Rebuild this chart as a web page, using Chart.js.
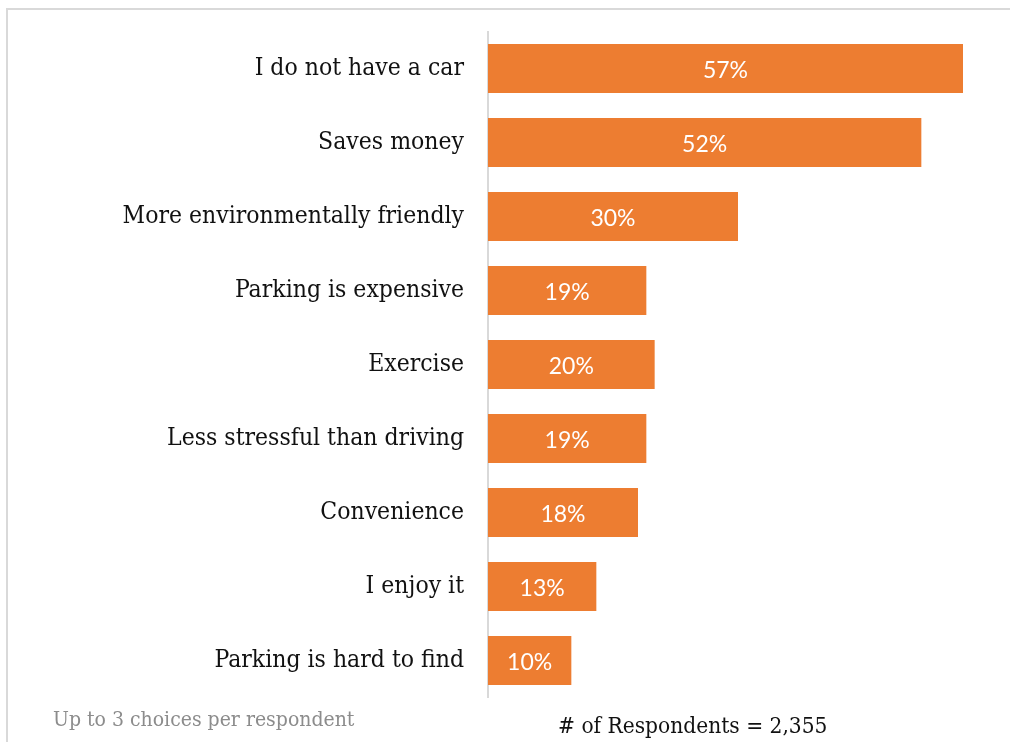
<!DOCTYPE html>
<html>
<head>
<meta charset="utf-8">
<title>Reasons for choosing transit</title>
<script src="https://cdn.jsdelivr.net/npm/chart.js@4.4.1/dist/chart.umd.min.js"></script>
<style>
  html, body { margin: 0; padding: 0; background: #ffffff; }
  body { width: 1010px; height: 742px; position: relative; overflow: hidden; }
  .frame {
    position: absolute; left: 6px; top: 8px; width: 1100px; height: 800px;
    border-left: 2px solid #d9d9d9; border-top: 2px solid #d9d9d9;
  }
  #chart { position: absolute; left: 0; top: 0; }
</style>
</head>
<body>
<div class="frame"></div>
<canvas id="chart" width="1010" height="742"></canvas>
<script>
// Reasons given by respondents, top to bottom
const categories = [
  'I do not have a car',
  'Saves money',
  'More environmentally friendly',
  'Parking is expensive',
  'Exercise',
  'Less stressful than driving',
  'Convenience',
  'I enjoy it',
  'Parking is hard to find'
];
// Share of respondents choosing each reason (%)
const shares = [57, 52, 30, 19, 20, 19, 18, 13, 10];

const footNote = 'Up to 3 choices per respondent';
const respondentsNote = '# of Respondents = 2,355';

const SLAB = "'DejaVu Serif Condensed', 'DejaVu Serif', serif";
const SANS = "Lato, 'Open Sans', sans-serif";
const ORANGE = '#ED7D31';

// White percentage labels centred inside each bar
const barLabels = {
  id: 'barLabels',
  afterDatasetsDraw(chart) {
    const { ctx } = chart;
    const meta = chart.getDatasetMeta(0);
    ctx.save();
    ctx.fillStyle = '#ffffff';
    ctx.font = `23px ${SANS}`;
    ctx.textAlign = 'center';
    ctx.textBaseline = 'middle';
    meta.data.forEach((bar, i) => {
      const cx = (bar.base + bar.x) / 2;
      ctx.fillText(`${shares[i]}%`, cx, bar.y + 2);
    });
    ctx.restore();
  }
};

// Notes under the chart
const notes = {
  id: 'notes',
  afterDraw(chart) {
    const { ctx } = chart;
    ctx.save();
    ctx.textBaseline = 'alphabetic';
    ctx.textAlign = 'left';
    ctx.fillStyle = '#8c8c8c';
    ctx.font = `21px ${SLAB}`;
    ctx.fillText(footNote, 53, 726);
    ctx.fillStyle = '#111111';
    ctx.font = `22.5px ${SLAB}`;
    ctx.fillText(respondentsNote, 558, 733);
    ctx.restore();
  }
};

new Chart(document.getElementById('chart'), {
  type: 'bar',
  data: {
    labels: categories,
    datasets: [{
      data: shares,
      backgroundColor: ORANGE,
      borderWidth: 0,
      categoryPercentage: 1,
      barPercentage: 0.66
    }]
  },
  options: {
    indexAxis: 'y',
    responsive: false,
    animation: false,
    layout: { padding: { top: 31.5, bottom: 44.5, left: 0, right: 22 } },
    plugins: {
      legend: { display: false },
      tooltip: { enabled: false }
    },
    scales: {
      x: { min: 0, max: 60, display: false },
      y: {
        grid: { display: false, drawTicks: false },
        border: { display: true, color: '#d9d9d9', width: 2 },
        ticks: {
          color: '#111111',
          padding: 24,
          font: { family: SLAB, size: 24.5 }
        },
        afterFit(scale) {
          scale.width = 488;
          scale.paddingTop = 0;
          scale.paddingBottom = 0;
        }
      }
    }
  },
  plugins: [barLabels, notes]
});
</script>
</body>
</html>
